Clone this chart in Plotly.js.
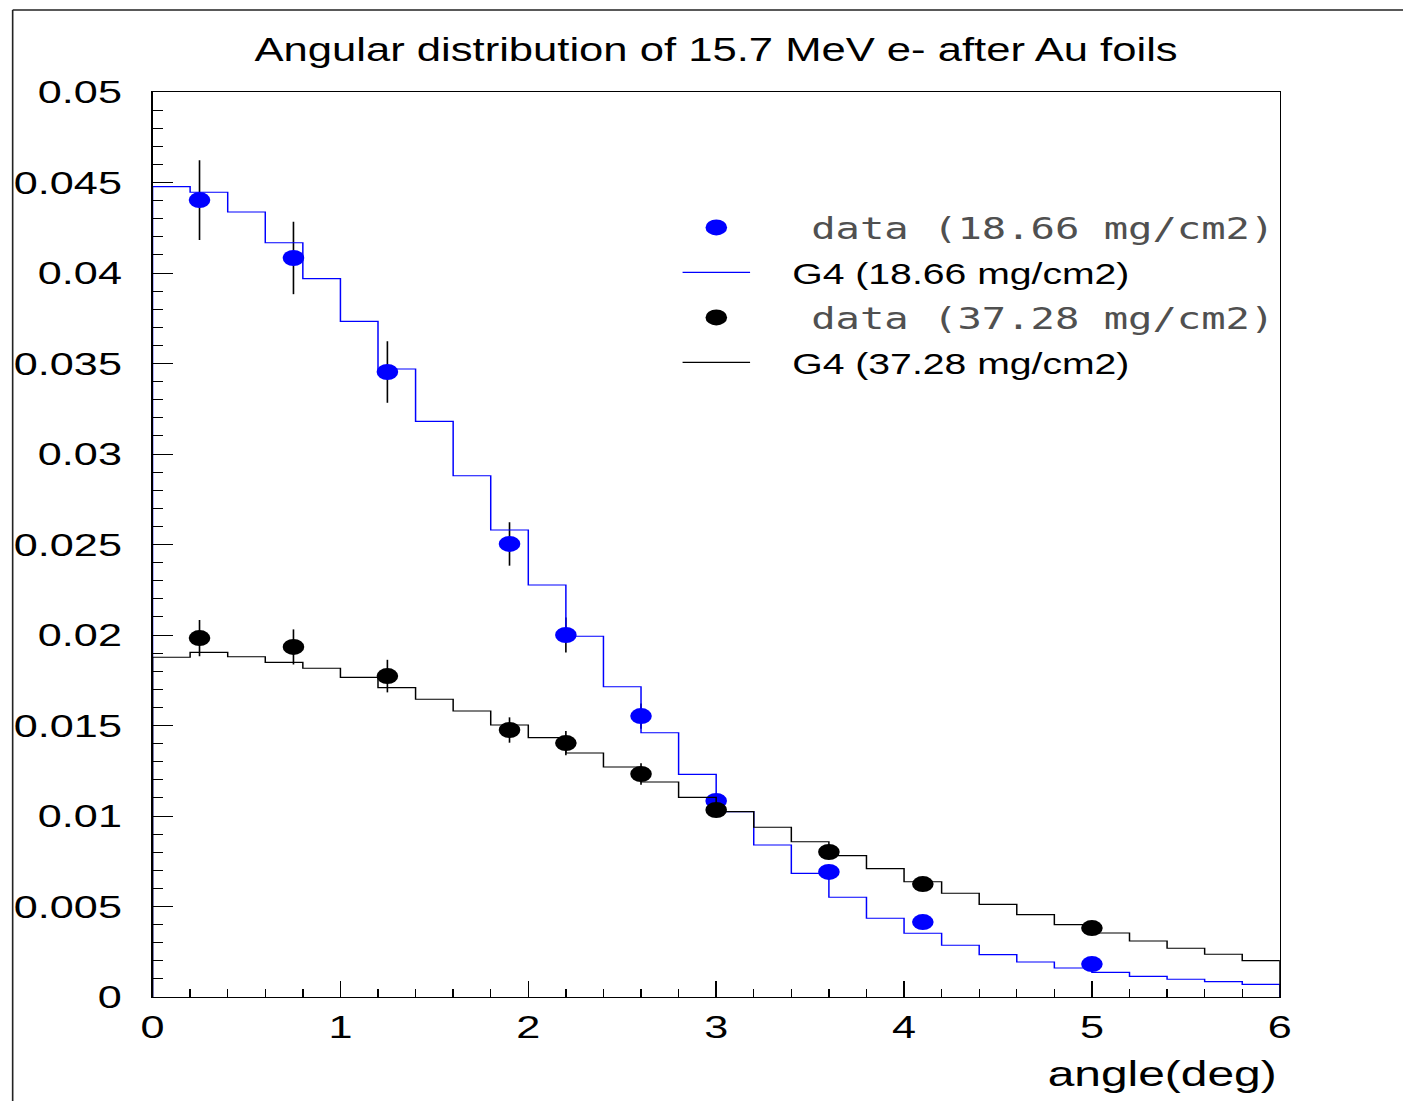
<!DOCTYPE html>
<html><head><meta charset="utf-8">
<script src="https://cdn.plot.ly/plotly-3.0.1.min.js"></script>
<style>
html,body{margin:0;padding:0;background:#fff;overflow:hidden;width:1403px;height:1101px}
#wrap{position:absolute;left:0;top:0;width:1040px;height:1101px;transform:scaleX(1.35);transform-origin:0 0}
</style></head><body>
<div id="wrap"><div id="chart" style="width:1040px;height:1101px"></div></div>
<script>
// bin edges of the G4 histograms (deg)
const binEdges = [0,0.2,0.4,0.6,0.8,1.0,1.2,1.4,1.6,1.8,2.0,2.2,2.4,2.6,2.8,3.0,3.2,3.4,3.6,3.8,4.0,4.2,4.4,4.6,4.8,5.0,5.2,5.4,5.6,5.8,6.0];
// G4 histogram contents, 18.66 mg/cm2
const g4Thin = [0.04477,0.04446,0.04337,0.04167,0.03969,0.03733,0.0347,0.0318,0.0288,0.0258,
                0.02276,0.01993,0.01714,0.0146,0.0123,0.01024,0.0084,0.00683,0.00551,0.00435,
                0.00352,0.00286,0.00234,0.00193,0.0016,0.00136,0.00114,0.00098,0.00085,0.0007];
// G4 histogram contents, 37.28 mg/cm2
const g4Thick = [0.01877,0.01904,0.0188,0.01849,0.01816,0.01766,0.01709,0.01645,0.0158,0.01503,
                 0.01433,0.01348,0.01271,0.01188,0.01103,0.01024,0.00938,0.00858,0.00781,0.00709,
                 0.00637,0.00573,0.00512,0.00455,0.004,0.00354,0.00309,0.00269,0.00236,0.00201];
// measured data
const dataAngle = [0.25,0.75,1.25,1.9,2.2,2.6,3.0,3.6,4.1,5.0];
const dataThin  = [0.04403,0.04083,0.03453,0.02503,0.0200,0.01552,0.01083,0.00691,0.00414,0.00182];
const errThin   = [0.0022,0.0020,0.0017,0.0012,0.00097,0.0007,0.0003,0.0003,0.0003,0.0003];
const dataThick = [0.01983,0.01934,0.01773,0.01475,0.01403,0.01232,0.01033,0.00801,0.00624,0.00381];
const errThick  = [0.0010,0.00097,0.0009,0.0007,0.00067,0.0006,0.0003,0.0003,0.0003,0.0003];

const titleText = 'Angular distribution of 15.7 MeV e- after Au foils';
const xTitleText = 'angle(deg)';
const legendLabels = ['data (18.66 mg/cm2)', 'G4 (18.66 mg/cm2)', 'data (37.28 mg/cm2)', 'G4 (37.28 mg/cm2)'];

const dataName = s => '<span style="font-family:\'DejaVu Sans Mono\';font-size:33.5px">&nbsp;&nbsp;</span>' +
  '<span style="font-family:\'DejaVu Sans Mono\';font-size:30px;color:#505050">' + s + '</span>';
const g4Name = s => '<span style="font-size:31.5px">&nbsp;&nbsp;&nbsp;</span>' + s;

const histX = [binEdges[0]].concat(binEdges);
const thinY = [0].concat(g4Thin).concat([0]);
const thickY = [0].concat(g4Thick).concat([0]);

const traces = [
  {x: dataAngle, y: dataThin, mode:'markers', name:dataName(legendLabels[0]), legendgroup:'a',
   marker:{color:'#0000ff', size:16},
   error_y:{type:'data', array:errThin, visible:true, color:'#000', thickness:1.2, width:0}},
  {x: histX, y: thinY, mode:'lines', name:g4Name(legendLabels[1]), legendgroup:'b',
   line:{shape:'hv', color:'#0000ff', width:1.1}},
  {x: dataAngle, y: dataThick, mode:'markers', name:dataName(legendLabels[2]), legendgroup:'c',
   marker:{color:'#000', size:16},
   error_y:{type:'data', array:errThick, visible:true, color:'#000', thickness:1.2, width:0}},
  {x: histX, y: thickY, mode:'lines', name:g4Name(legendLabels[3]), legendgroup:'d',
   line:{shape:'hv', color:'#000', width:1.1}}
];

const fontFam = 'Liberation Sans, Arial, sans-serif';
const layout = {
  width:1040, height:1101,
  margin:{l:112.59, r:91.85, t:92, b:104, pad:0},
  paper_bgcolor:'#fff', plot_bgcolor:'#fff',
  font:{family:fontFam, color:'#000'},
  title:{text:titleText, font:{family:fontFam, size:32.3, color:'#000'},
         xref:'container', x:0.510, xanchor:'center', yref:'container', y:0.9546, yanchor:'middle'},
  showlegend:true,
  legend:{x:0.4642, y:0.8784, xanchor:'left', yanchor:'top', traceorder:'grouped', tracegroupgap:4.3,
          font:{family:fontFam, size:29, color:'#000'}, bgcolor:'rgba(0,0,0,0)', borderwidth:0, itemwidth:50},
  xaxis:{range:[0,6], autorange:false, showgrid:false, zeroline:false,
         showline:true, mirror:true, linecolor:'#000', linewidth:1,
         ticks:'inside', tickmode:'linear', tick0:0, dtick:1, ticklen:16, tickwidth:1, tickcolor:'#000',
         minor:{ticks:'inside', dtick:0.2, tick0:0, ticklen:8, tickwidth:1, tickcolor:'#000', showgrid:false},
         tickfont:{family:fontFam, size:32, color:'#000'}, ticklabelstandoff:2},
  yaxis:{range:[0,0.05], autorange:false, showgrid:false, zeroline:false,
         showline:true, mirror:true, linecolor:'#000', linewidth:1,
         ticks:'inside', tickmode:'linear', tick0:0, dtick:0.005, ticklen:14.8, tickwidth:1, tickcolor:'#000',
         minor:{ticks:'inside', dtick:0.001, tick0:0, ticklen:7.4, tickwidth:1, tickcolor:'#000', showgrid:false},
         tickfont:{family:fontFam, size:32, color:'#000'}, ticklabelstandoff:21.65, ticksuffix:'\u00a0\u2009'},
  annotations:[
    {text:xTitleText, xref:'paper', yref:'paper', x:1, y:0, xanchor:'right', yanchor:'middle',
     yshift:-77, showarrow:false, font:{family:fontFam, size:35.5, color:'#000'}}
  ],
  shapes:[
    {type:'line', xref:'paper', yref:'paper', x0:-0.1241, x1:-0.1241, y0:-0.2, y1:1.0906, line:{color:'#222', width:1.2}},
    {type:'line', xref:'paper', yref:'paper', x0:-0.1241, x1:1.2, y0:1.0906, y1:1.0906, line:{color:'#222', width:1.5}}
  ]
};

Plotly.newPlot('chart', traces, layout, {displayModeBar:false, staticPlot:true});
</script>
</body></html>
